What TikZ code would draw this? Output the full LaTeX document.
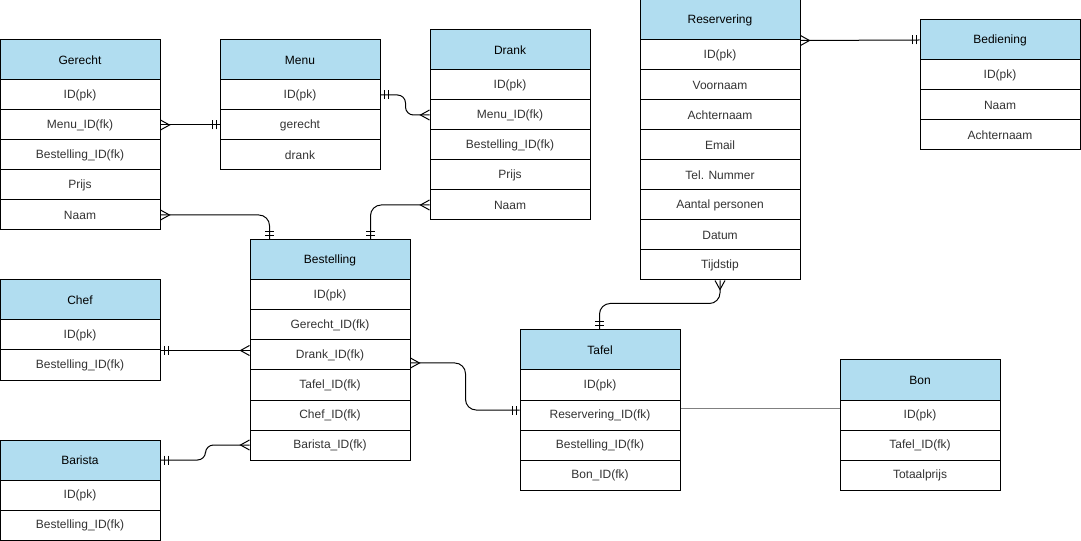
\documentclass[tikz,border=0pt]{standalone}
\usepackage{fontspec}
\setmainfont{Liberation Sans}
\usetikzlibrary{positioning}
\definecolor{headblue}{HTML}{B1DDF0}
\definecolor{rowtext}{HTML}{333333}

\begin{document}
\begin{tikzpicture}[x=0.75pt,y=-0.75pt,
  head/.style={draw,line width=0.75pt,fill=headblue,minimum width=120pt,minimum height=30pt,inner sep=0pt,font=\fontsize{9}{11}\selectfont},
  row/.style={draw,line width=0.75pt,fill=white,minimum width=120pt,minimum height=22.5pt,inner sep=0pt,font=\fontsize{9}{11}\selectfont,text=rowtext},
  link/.style={line width=0.75pt},
  one/.pic={\draw[link] (3.5,-4.5) -- (3.5,4.5) (7.5,-4.5) -- (7.5,4.5);},
  many/.pic={\draw[link] (0,-5) -- (9,0) -- (0,5);}]
\useasboundingbox (0,0) rectangle (1081,541);

% tables
\node[head] (gerecht) at (80,60) {Gerecht};
\foreach \t [count=\i] in {ID(pk),Menu\_ID(fk),Bestelling\_ID(fk),Prijs,Naam}
  \node[row] (gerecht-\i) at (80,65+30*\i) {\t};

\node[head] (menu) at (300,60) {Menu};
\foreach \t [count=\i] in {ID(pk),gerecht,drank}
  \node[row] (menu-\i) at (300,65+30*\i) {\t};

\node[head] (drank) at (510,50) {Drank};
\foreach \t [count=\i] in {ID(pk),Menu\_ID(fk),Bestelling\_ID(fk),Prijs,Naam}
  \node[row] (drank-\i) at (510,55+30*\i) {\t};

\node[head] (reservering) at (720,20) {Reservering};
\foreach \t [count=\i] in {ID(pk),Voornaam,Achternaam,Email,Tel. Nummer,Aantal personen,Datum,Tijdstip}
  \node[row] (reservering-\i) at (720,25+30*\i) {\t};

\node[head] (bediening) at (1000,40) {Bediening};
\foreach \t [count=\i] in {ID(pk),Naam,Achternaam}
  \node[row] (bediening-\i) at (1000,45+30*\i) {\t};

\node[head] (bestelling) at (330,260) {Bestelling};
\foreach \t [count=\i] in {ID(pk),Gerecht\_ID(fk),Drank\_ID(fk),Tafel\_ID(fk),Chef\_ID(fk),Barista\_ID(fk)}
  \node[row] (bestelling-\i) at (330,265+30*\i) {\t};

\node[head] (chef) at (80,300) {Chef};
\foreach \t [count=\i] in {ID(pk),Bestelling\_ID(fk)}
  \node[row] (chef-\i) at (80,305+30*\i) {\t};

\node[head] (barista) at (80,460) {Barista};
\foreach \t [count=\i] in {ID(pk),Bestelling\_ID(fk)}
  \node[row] (barista-\i) at (80,465+30*\i) {\t};

\node[head] (tafel) at (600,350) {Tafel};
\foreach \t [count=\i] in {ID(pk),Reservering\_ID(fk),Bestelling\_ID(fk),Bon\_ID(fk)}
  \node[row] (tafel-\i) at (600,355+30*\i) {\t};

\node[head] (bon) at (920,380) {Bon};
\foreach \t [count=\i] in {ID(pk),Tafel\_ID(fk),Totaalprijs}
  \node[row] (bon-\i) at (920,385+30*\i) {\t};

% relations
\draw[link] (gerecht-2.east) -- (menu-2.west);
\draw[link,rounded corners=6] (menu-1.east) -- ++(25,0) |- (drank-2.west);
\draw[link,rounded corners=8] (gerecht-5.east) -| ([xshift=15pt]bestelling.north west);
\draw[link,rounded corners=8] (drank-5.west) -| ([xshift=-30pt]bestelling.north east);
\draw[link,rounded corners=8] (reservering-8.south) -- ++(0,23) -| ([xshift=60pt]tafel.north west);
\draw[link] (reservering.south east) -- (bediening.west);
\draw[link] (chef-1.south east) -- (chef-1.south east -| bestelling.west);
\draw[link,rounded corners=6] (barista.east) -- ++(45,0) |- (bestelling-6.west);
\draw[link,rounded corners=8] ([yshift=-6pt]bestelling-3.east) -- ++(55,0) |- ([yshift=3.75pt]tafel-2.west);
\draw[link,gray] ([yshift=5.25pt]tafel-2.east) -- ([yshift=5.25pt]bon-1.west);

% ends
\pic at (gerecht-2.east) {many};
\pic[rotate=180] at (menu-2.west) {one};
\pic at (menu-1.east) {one};
\pic[rotate=180] at (drank-2.west) {many};
\pic at (gerecht-5.east) {many};
\pic[rotate=90] at ([xshift=15pt]bestelling.north west) {one};
\pic[rotate=180] at (drank-5.west) {many};
\pic[rotate=90] at ([xshift=-30pt]bestelling.north east) {one};
\pic[rotate=-90] at (reservering-8.south) {many};
\pic[rotate=90] at ([xshift=60pt]tafel.north west) {one};
\pic at (reservering.south east) {many};
\pic[rotate=180] at (bediening.west) {one};
\pic at (chef-1.south east) {one};
\pic[rotate=180] at (chef-1.south east -| bestelling.west) {many};
\pic at (barista.east) {one};
\pic[rotate=180] at (bestelling-6.west) {many};
\pic at ([yshift=-6pt]bestelling-3.east) {many};
\pic[rotate=180] at ([yshift=3.75pt]tafel-2.west) {one};
\end{tikzpicture}
\end{document}
